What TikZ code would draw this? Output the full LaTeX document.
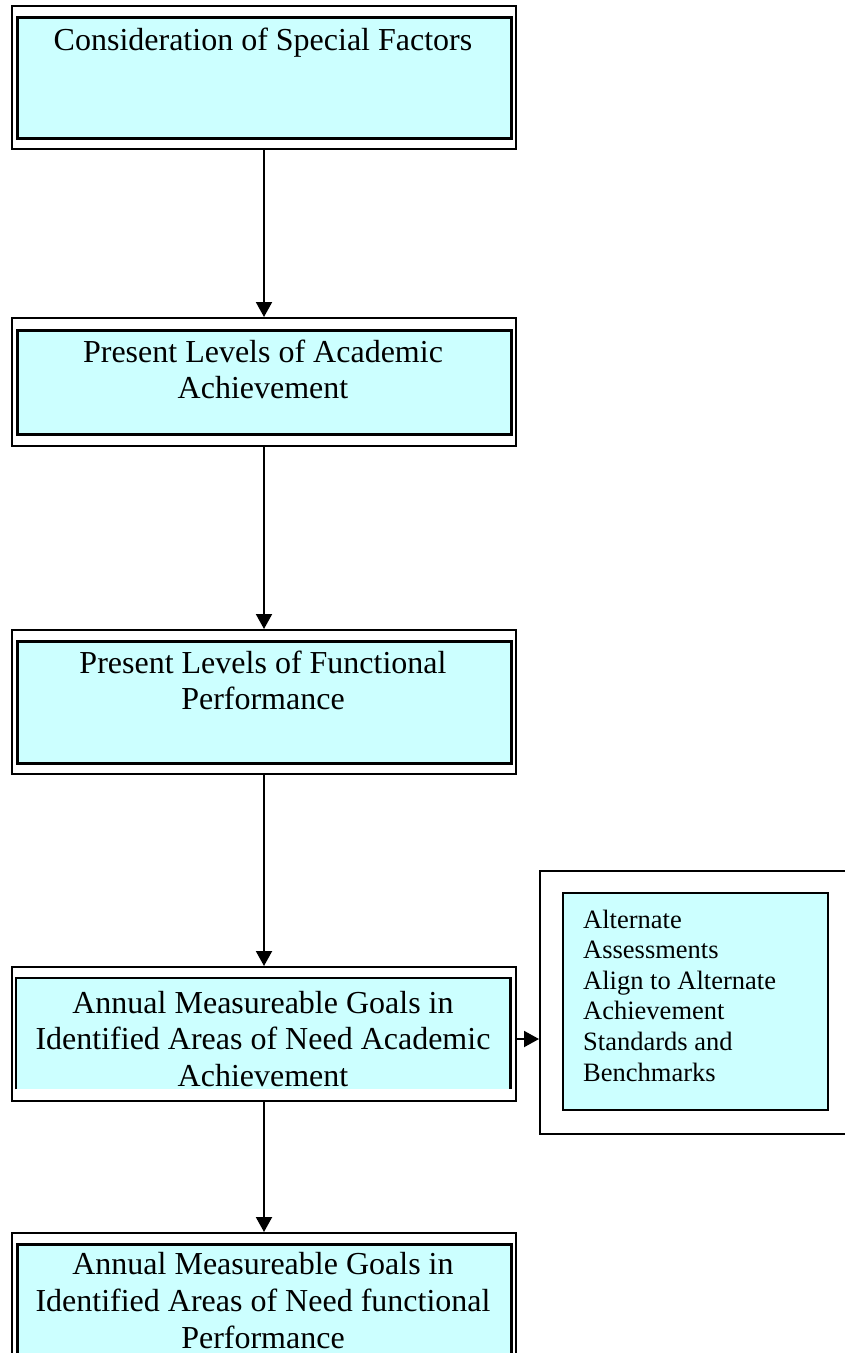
\documentclass[tikz,border=0pt]{standalone}
\usepackage{fontspec}
\setmainfont{Liberation Serif}
\usetikzlibrary{arrows.meta}
\definecolor{boxcyan}{HTML}{CCFFFF}
\begin{document}
\begin{tikzpicture}[x=1pt,y=-1pt,
  outerbox/.style={draw=black,line width=2pt,fill=white,inner sep=0pt,anchor=north west,rectangle},
  innerbox/.style={draw=black,line width=2.6pt,fill=boxcyan,inner sep=0pt,anchor=north west,rectangle},
  innerfill/.style={fill=boxcyan,inner sep=0pt,anchor=north west,rectangle},
  bigtext/.style={font=\fontsize{32}{36.8}\selectfont,align=center,anchor=base,inner sep=0pt},
  smalltext/.style={font=\fontsize{26.5}{30.6}\selectfont,align=left,anchor=base west,inner sep=0pt},
  flow/.style={draw=black,line width=2pt,-{Triangle[width=16pt,length=15pt]}}]
\useasboundingbox (0,0) rectangle (845,1353);
\clip (0,0) rectangle (845,1353);
\fill[white] (0,0) rectangle (845,1353);

% Box 1
\node[outerbox,minimum width=504pt,minimum height=143pt] (b1) at (11,5) {};
\node[innerbox,minimum width=494pt,minimum height=121pt] (b1in) at (16,16) {};
\node[bigtext] (t1) at (263,50) {Consideration of Special Factors};

% Box 2 (base anchor = last line's baseline)
\node[outerbox,minimum width=504pt,minimum height=128pt] (b2) at (11,317) {};
\node[innerbox,minimum width=494pt,minimum height=104pt] (b2in) at (16,329) {};
\node[bigtext] (t2) at (263,398.8) {Present Levels of Academic\\Achievement};

% Box 3
\node[outerbox,minimum width=504pt,minimum height=144pt] (b3) at (11,629) {};
\node[innerbox,minimum width=494pt,minimum height=122pt] (b3in) at (16,640) {};
\node[bigtext] (t3) at (263,709.8) {Present Levels of Functional\\Performance};

% Box 4
\node[outerbox,minimum width=504pt,minimum height=134pt] (b4) at (11,966) {};
\node[innerfill,minimum width=494pt,minimum height=111pt] (b4in) at (16,978) {};
\draw[line width=2.6pt] (b4in.south west) -- (b4in.north west) -- (b4in.north east) -- (b4in.south east);
\begin{scope}
\clip (16,978) rectangle (510,1089);
\node[bigtext] (t4) at (263,1086.6) {Annual Measureable Goals in\\Identified Areas of Need Academic\\Achievement};
\end{scope}

% Box 5 (runs off the page)
\node[outerbox,minimum width=504pt,minimum height=200pt] (b5) at (11,1232) {};
\node[innerbox,minimum width=494pt,minimum height=180pt] (b5in) at (16,1243) {};
\node[bigtext] (t5) at (263,1348.5) {Annual Measureable Goals in\\Identified Areas of Need functional\\Performance};

% Alternate box
\node[outerbox,minimum width=400pt,minimum height=263pt] (alt) at (539,870) {};
\node[innerbox,line width=2pt,minimum width=265pt,minimum height=217pt] (altin) at (562,892) {};
\node[smalltext] (talt) at (583,1081) {Alternate\\Assessments\\Align to Alternate\\Achievement\\Standards and\\Benchmarks};

% Connectors
\draw[flow] (b1.south) -- (b2.north);
\draw[flow] (b2.south) -- (b3.north);
\draw[flow] (b3.south) -- (b4.north);
\draw[flow] (b4.south) -- (b5.north);
\coordinate (ay) at (0,1039);
\draw[flow] (b4.east |- ay) -- (alt.west |- ay);
\end{tikzpicture}
\end{document}
